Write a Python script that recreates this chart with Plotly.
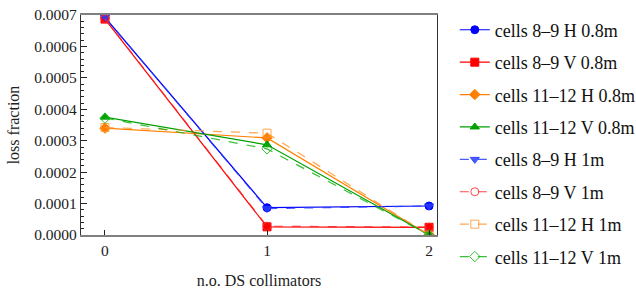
import plotly.graph_objects as go

collimators = [0, 1, 2]

names = [
    "cells 8\u20139 H 0.8m",
    "cells 8\u20139 V 0.8m",
    "cells 11\u201312 H 0.8m",
    "cells 11\u201312 V 0.8m",
    "cells 8\u20139 H 1m",
    "cells 8\u20139 V 1m",
    "cells 11\u201312 H 1m",
    "cells 11\u201312 V 1m",
]

h89_08 = [0.000692, 0.0000869, 0.0000923]
v89_08 = [0.000687, 0.0000260, 0.0000245]
h1112_08 = [0.000340, 0.000309, 0.0]
v1112_08 = [0.000375, 0.000287, 0.0]
h89_1 = [0.000693, 0.0000840, 0.0000923]
v89_1 = [0.000688, 0.0000280, 0.0000250]
h1112_1 = [0.000342, 0.000324, 0.0]
v1112_1 = [0.000372, 0.000274, 0.0]

values = [h89_08, v89_08, h1112_08, v1112_08, h89_1, v89_1, h1112_1, v1112_1]
colors = ["#0000ff", "#ff0000", "#ff8000", "#00a000",
          "rgba(40,60,255,0.85)", "rgba(255,40,40,0.85)", "rgba(255,150,50,0.85)", "rgba(20,180,20,0.85)"]
symbols = ["circle", "square", "diamond", "triangle-up",
           "triangle-down", "circle-open", "square-open", "diamond-open"]
dashes = ["solid"] * 4 + ["dash"] * 4

fig = go.Figure()
for i, (n, v) in enumerate(zip(names, values)):
    fig.add_trace(go.Scatter(
        x=collimators, y=v, name=n, mode="lines+markers",
        line=dict(color=colors[i], width=1.2, dash=dashes[i]),
        marker=dict(symbol=symbols[i], size=8, color=colors[i],
                    line=dict(color=colors[i], width=1)),
        legendgroup=str(i),
    ))

font_family = "Liberation Serif"
fig.update_layout(
    width=636, height=289,
    margin=dict(l=81, r=199, t=15, b=54, autoexpand=False),
    paper_bgcolor="white", plot_bgcolor="white",
    font=dict(family=font_family, size=15.5, color="#222"),
    showlegend=True,
    legend=dict(x=1.05, y=0.96, xanchor="left", yanchor="top", yref="container",
                font=dict(family=font_family, size=18, color="#111"),
                tracegroupgap=6, itemwidth=30, bgcolor="rgba(0,0,0,0)",
                maxheight=289),
    xaxis=dict(range=[-0.148, 2.049], tickvals=collimators, ticktext=["0", "1", "2"],
               ticks="inside", ticklen=5, tickcolor="#222", showgrid=False, zeroline=False,
               showline=True, linecolor="#808080", linewidth=2, mirror=True,
               title=dict(text="n.o. DS collimators", font=dict(size=16), standoff=20)),
    yaxis=dict(range=[0, 0.0007], dtick=0.0001, tickformat=".4f",
               ticks="inside", ticklen=6, tickcolor="#222", showgrid=False, zeroline=False,
               showline=True, linecolor="#333", linewidth=1.2, mirror=True,
               minor=dict(ticks="inside", ticklen=3, dtick=0.00002, tickcolor="#222"),
               title=dict(text="loss fraction", font=dict(size=16), standoff=10)),
)

fig.write_html("out.html", config={"displayModeBar": False},
               post_script="document.body.style.margin='0px';document.body.style.overflow='hidden';")
